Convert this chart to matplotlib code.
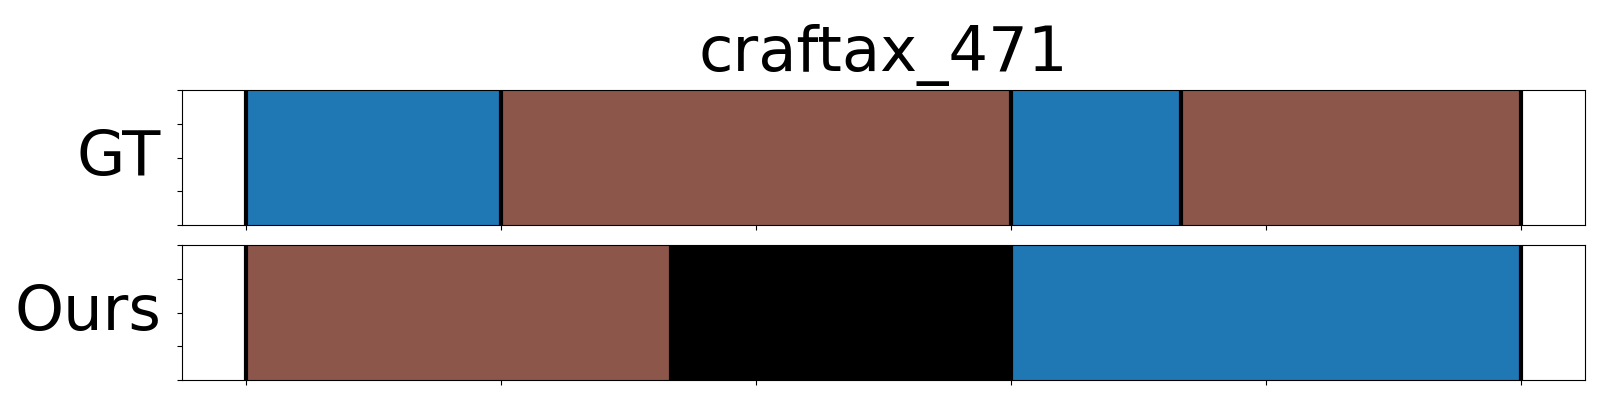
import matplotlib.pyplot as plt
from matplotlib.ticker import MultipleLocator

# Segment boundaries (frame index) and class per segment
gt_bounds = [0, 3, 9, 11, 15]
gt_labels = ["blue", "brown", "blue", "brown"]
ours_bounds = [0, 5, 9, 15]
ours_labels = ["brown", "black", "blue"]

title = "craftax_471"
row_names = ["GT", "Ours"]

colors = {"blue": "tab:blue", "brown": "tab:brown", "black": "black"}

fig = plt.figure(figsize=(16, 4), dpi=100)
ax_gt = fig.add_axes([0.1136, 0.4375, 0.877, 0.3365])
ax_ours = fig.add_axes([0.1136, 0.05, 0.877, 0.3365])

for ax, bounds, labels, name in [(ax_gt, gt_bounds, gt_labels, row_names[0]),
                                 (ax_ours, ours_bounds, ours_labels, row_names[1])]:
    for i, lab in enumerate(labels):
        ax.barh(0.5, bounds[i + 1] - bounds[i], left=bounds[i], height=1,
                color=colors[lab])
    for b in bounds:
        ax.axvline(b, color="black", linewidth=3)
    span = bounds[-1] - bounds[0]
    ax.set_xlim(bounds[0] - 0.05 * span, bounds[-1] + 0.05 * span)
    ax.set_ylim(0, 1)
    ax.set_yticks([0, 0.25, 0.5, 0.75, 1])
    ax.set_yticklabels([])
    ax.xaxis.set_major_locator(MultipleLocator(3))
    ax.set_xticklabels([])
    ax.set_ylabel(name, fontsize=45, rotation=0, ha="right", va="center", labelpad=8)

ax_gt.set_title(title, fontsize=45, pad=14)

plt.savefig("out.png")
plt.close()
